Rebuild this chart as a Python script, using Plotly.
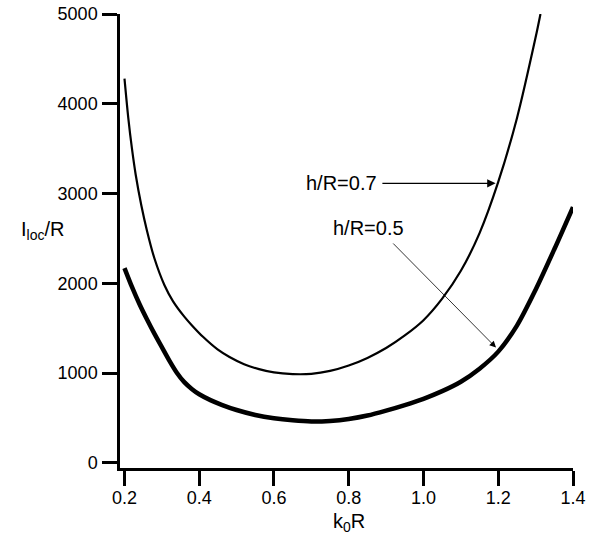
import plotly.graph_objects as go

# h/R = 0.7 (thin curve)
x_07 = [0.2, 0.21, 0.22, 0.23, 0.245, 0.26, 0.28, 0.307, 0.33, 0.36, 0.38, 0.41, 0.449,
        0.481, 0.52, 0.56, 0.6, 0.65, 0.7, 0.75, 0.8, 0.85, 0.9, 0.95, 1.0, 1.05, 1.1,
        1.15, 1.2, 1.25, 1.3, 1.313]
y_07 = [4280, 3850, 3500, 3210, 2870, 2590, 2280, 1980, 1800, 1630, 1535, 1405, 1265,
        1180, 1100, 1045, 1008, 990, 993, 1025, 1085, 1170, 1280, 1420, 1590, 1830, 2140,
        2560, 3130, 3840, 4740, 5000]

# h/R = 0.5 (thick curve)
x_05 = [0.2, 0.22, 0.24, 0.26, 0.28, 0.3, 0.32, 0.34, 0.36, 0.38, 0.4, 0.43, 0.46, 0.5,
        0.55, 0.6, 0.65, 0.7, 0.75, 0.8, 0.85, 0.9, 0.95, 1.0, 1.05, 1.1, 1.15, 1.2,
        1.25, 1.3, 1.35, 1.4]
y_05 = [2170, 1960, 1770, 1600, 1440, 1290, 1140, 1005, 900, 825, 765, 700, 648, 590,
        535, 498, 475, 462, 468, 490, 528, 583, 645, 715, 800, 905, 1050, 1240,
        1530, 1930, 2380, 2850]

x_ticks = [0.2, 0.4, 0.6, 0.8, 1.0, 1.2, 1.4]
x_tick_labels = ["0.2", "0.4", "0.6", "0.8", "1.0", "1.2", "1.4"]
y_ticks = [0, 1000, 2000, 3000, 4000, 5000]
y_tick_labels = ["0", "1000", "2000", "3000", "4000", "5000"]

FONT = "Liberation Sans, Arial, Helvetica, sans-serif"

fig = go.Figure()
fig.add_trace(go.Scatter(x=x_07, y=y_07, mode="lines",
                         line=dict(color="black", width=2.2, shape="spline", smoothing=0.8),
                         name="h/R=0.7", showlegend=False))
fig.add_trace(go.Scatter(x=x_05, y=y_05, mode="lines",
                         line=dict(color="black", width=4.5, shape="spline", smoothing=0.8),
                         name="h/R=0.5", showlegend=False))

fig.update_layout(
    width=589, height=541,
    margin=dict(l=120, r=16, t=14, b=73),
    paper_bgcolor="white", plot_bgcolor="white",
    font=dict(family=FONT, color="black", size=18),
    xaxis=dict(range=[0.188, 1.4], showgrid=False, zeroline=False, showline=True,
               linecolor="black", linewidth=2.5, ticks="outside", ticklen=15, tickwidth=2.5,
               tickcolor="black", tickvals=x_ticks, ticktext=x_tick_labels, automargin=False,
               ticklabelstandoff=-3, ticklabeloverflow="allow",
               tickfont=dict(size=18, family=FONT)),
    yaxis=dict(range=[-56, 5000], showgrid=False, zeroline=False, showline=True,
               linecolor="black", linewidth=2.5, ticks="outside", ticklen=15, tickwidth=2.5,
               tickcolor="black", tickvals=y_ticks, ticktext=y_tick_labels, automargin=False,
               ticklabelstandoff=1, ticklabeloverflow="allow",
               tickfont=dict(size=18, family=FONT)),
    annotations=[
        dict(text="I<sub>loc</sub>/R", xref="paper", yref="paper", x=-0.172, y=0.523,
             xanchor="center", yanchor="middle", showarrow=False, font=dict(size=20, family=FONT)),
        dict(text="k<sub>0</sub>R", xref="paper", yref="paper", x=0.506, y=-0.12,
             xanchor="center", yanchor="middle", showarrow=False, font=dict(size=20, family=FONT)),
        dict(text="h/R=0.7", xref="x", yref="y", x=0.882, y=3118, xanchor="right", yanchor="middle",
             showarrow=False, font=dict(size=20, family=FONT)),
        dict(text="h/R=0.5", xref="x", yref="y", x=0.752, y=2617, xanchor="left", yanchor="middle",
             showarrow=False, font=dict(size=20, family=FONT)),
        dict(text="", xref="x", yref="y", x=1.193, y=3114, axref="x", ayref="y", ax=0.886, ay=3114,
             showarrow=True, arrowhead=2, arrowsize=1.3, arrowwidth=1.3, arrowcolor="black"),
        dict(text="", xref="x", yref="y", x=1.194, y=1285, axref="x", ayref="y", ax=0.915, ay=2461,
             showarrow=True, arrowhead=2, arrowsize=1.6, arrowwidth=0.8, arrowcolor="black"),
    ],
)

fig.write_html("out.html", config={"displayModeBar": False},
               post_script="document.body.style.margin='0';document.body.style.overflow='hidden';")
